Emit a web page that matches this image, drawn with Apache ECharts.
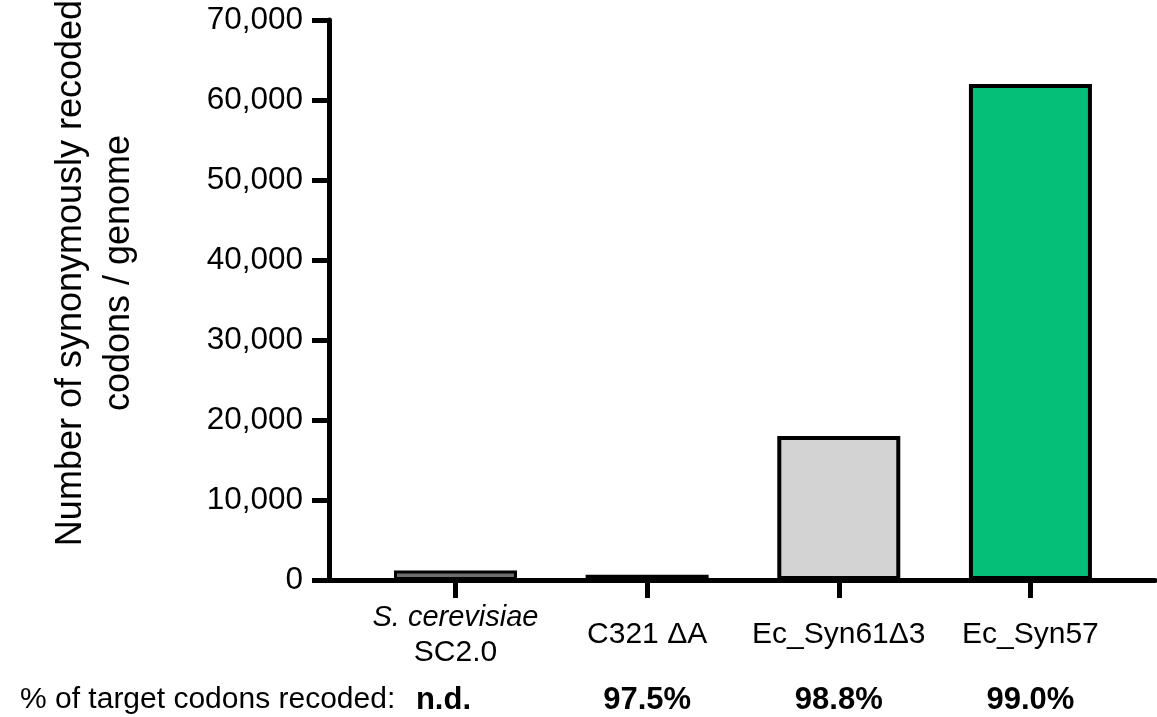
<!DOCTYPE html>
<html><head><meta charset="utf-8">
<script src="https://cdn.jsdelivr.net/npm/echarts@6/dist/echarts.min.js"></script>
<style>html,body{margin:0;padding:0;background:#fff}#c{width:1157px;height:717px}</style>
</head><body><div id="c"></div>
<script>
// ---- data ----
const categoryNames = ['S. cerevisiae', 'C321 ΔA', 'Ec_Syn61Δ3', 'Ec_Syn57'];
const categorySub = ['SC2.0', '', '', ''];
const categoryItalic = [true, false, false, false];
const recodedCodons = [1200, 650, 18000, 62000];
const pctRecoded = ['n.d.', '97.5%', '98.8%', '99.0%'];
const yMax = 70000;
const yStep = 10000;
const yTitle = 'Number of synonymously recoded\ncodons / genome';
const rowTitle = '% of target codons recoded:';

// ---- styles ----
const barColors = ['#6e6e6e', '#6e6e6e', '#d3d3d3', '#06bf77'];
const barBorders = [3, 4, 4, 4];
const FONT = '"Liberation Sans", Arial, Helvetica, sans-serif';
const idx = categoryNames.map((_, i) => i);

const chart = echarts.init(document.getElementById('c'), null, {renderer: 'canvas'});
const xBase = {
  type: 'value', min: -0.66, max: 3.65,
  splitLine: {show: false}
};
chart.setOption({
  animation: false,
  backgroundColor: '#fff',
  grid: {left: 329, right: 2, top: 20, bottom: 137, containLabel: false},
  xAxis: [
    Object.assign({}, xBase, {
      position: 'bottom',
      axisLine: {show: true, onZero: false, lineStyle: {color: '#000', width: 5}},
      axisTick: {show: true, customValues: idx, length: 18, lineStyle: {color: '#000', width: 5}},
      axisLabel: {
        show: true, customValues: idx, margin: 55, verticalAlign: 'middle',
        color: '#000', fontFamily: FONT, fontSize: 30, lineHeight: 35, align: 'center',
        formatter: v => {
          const i = Math.round(v);
          const main = categoryItalic[i] ? '{i|' + categoryNames[i] + '}' : '{n|' + categoryNames[i] + '}';
          return categorySub[i] ? main + '\n{n|' + categorySub[i] + '}' : main;
        },
        rich: {
          i: {fontStyle: 'italic', fontFamily: FONT, fontSize: 29, lineHeight: 35, color: '#000'},
          n: {fontFamily: FONT, fontSize: 30, lineHeight: 35, color: '#000'}
        }
      }
    }),
    Object.assign({}, xBase, {
      position: 'bottom',
      axisLine: {show: false},
      axisTick: {show: false},
      axisLabel: {
        show: true, customValues: idx, margin: 120, verticalAlign: 'middle',
        color: '#000', fontFamily: FONT, fontSize: 31, fontWeight: 'bold',
        formatter: v => {
          const i = Math.round(v);
          return i === 0 ? '{nd|' + pctRecoded[i] + '}' : pctRecoded[i];
        },
        rich: {
          nd: {fontFamily: FONT, fontSize: 31, fontWeight: 'bold', color: '#000', padding: [0, 24, 0, 0]}
        }
      }
    })
  ],
  yAxis: {
    type: 'value', min: 0, max: yMax, interval: yStep,
    splitLine: {show: false},
    axisLine: {show: true, onZero: false, lineStyle: {color: '#000', width: 5}},
    axisTick: {show: true, length: 17, lineStyle: {color: '#000', width: 5}},
    axisLabel: {
      margin: 26, color: '#000', fontFamily: FONT, fontSize: 31.5,
      formatter: v => v.toLocaleString('en-US')
    }
  },
  graphic: [
    {
      type: 'text', x: 95, y: 273, rotation: Math.PI / 2,
      style: {text: yTitle, fill: '#000', font: '36px ' + FONT, textAlign: 'center', textVerticalAlign: 'middle', lineHeight: 48}
    },
    {
      type: 'text', x: 20, y: 700,
      style: {text: rowTitle, fill: '#000', font: '30px ' + FONT, textAlign: 'left', textVerticalAlign: 'middle'}
    }
  ],
  series: [{
    type: 'bar', xAxisIndex: 0, barWidth: 123,
    data: recodedCodons.map((v, i) => ({
      value: [i, v],
      itemStyle: {color: barColors[i], borderColor: '#000', borderWidth: barBorders[i]}
    }))
  }]
});
</script></body></html>
